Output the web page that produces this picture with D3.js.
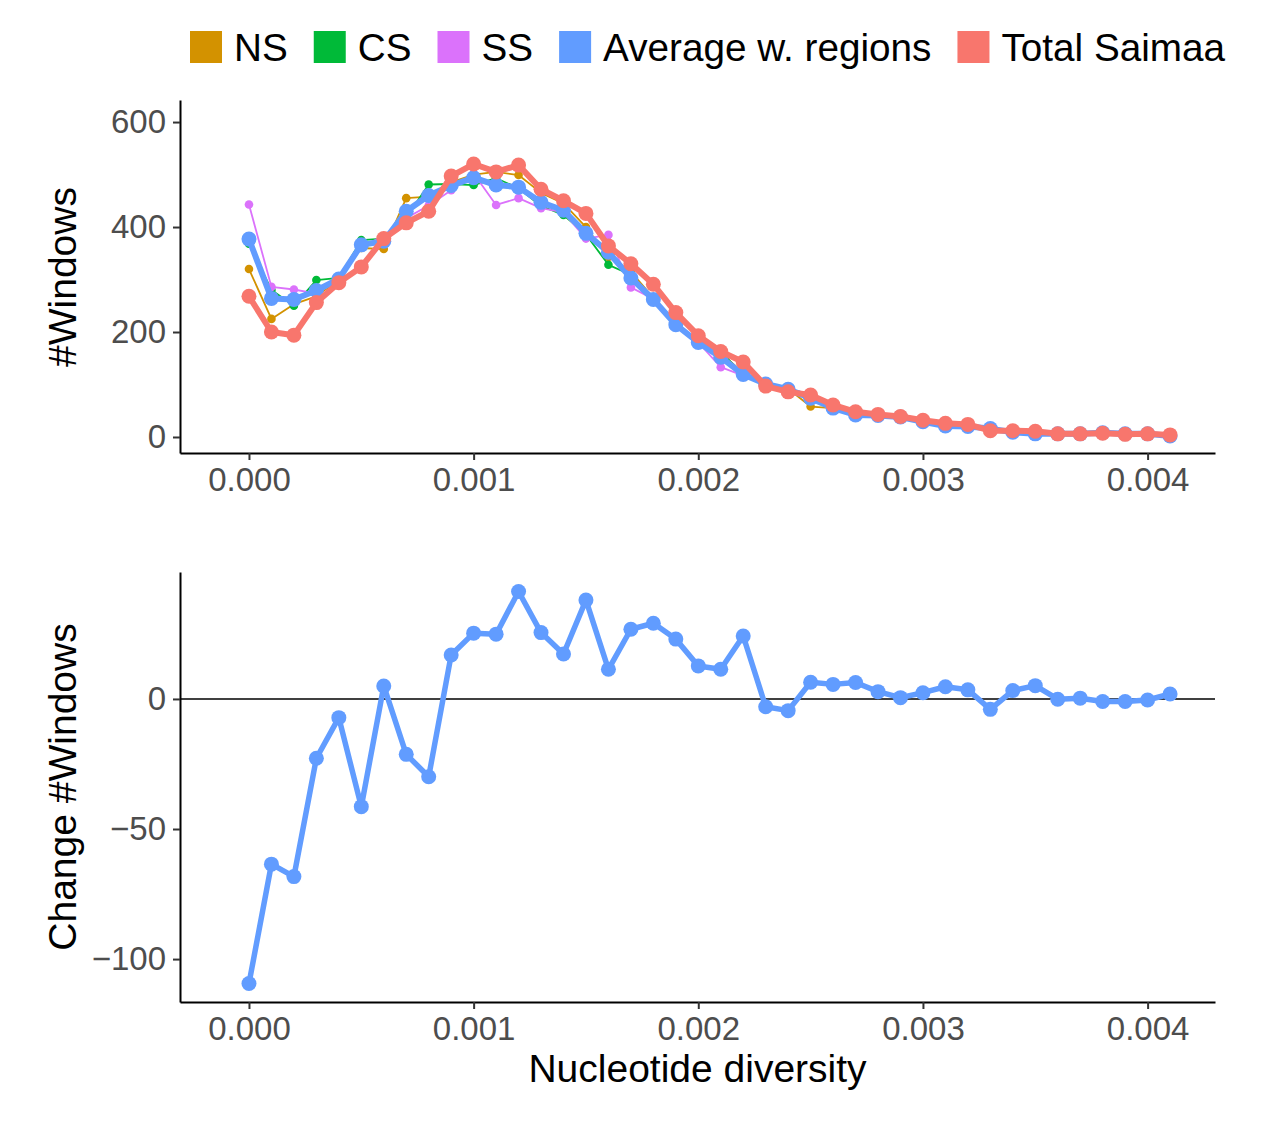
<!DOCTYPE html>
<html>
<head>
<meta charset="utf-8">
<script src="https://cdn.jsdelivr.net/npm/d3@7"></script>
<style>
  body { margin: 0; background: #fff; }
  svg { font-family: "Liberation Sans", Arial, sans-serif; }
</style>
</head>
<body>
<svg id="chart" width="1270" height="1143"></svg>
<script>
// nucleotide diversity bins
const diversity = [0, 0.0001, 0.0002, 0.0003, 0.0004, 0.0005, 0.0006, 0.0007, 0.0008, 0.0009,
  0.0010, 0.0011, 0.0012, 0.0013, 0.0014, 0.0015, 0.0016, 0.0017, 0.0018, 0.0019,
  0.0020, 0.0021, 0.0022, 0.0023, 0.0024, 0.0025, 0.0026, 0.0027, 0.0028, 0.0029,
  0.0030, 0.0031, 0.0032, 0.0033, 0.0034, 0.0035, 0.0036, 0.0037, 0.0038, 0.0039,
  0.0040, 0.0041];

const ns = [320, 225, 253, 268, 300, 360, 358, 455, 458, 485, 500, 505, 499, 465, 445, 400, 343, 315, 265, 215,
  182, 160, 122, 102, 92, 58, 55, 43, 40, 37, 30, 22, 20, 15, 9, 5, 6, 6, 8, 6, 6, 2];
const cs = [368, 280, 250, 299, 303, 375, 378, 418, 481, 482, 480, 493, 474, 440, 423, 386, 328, 309, 258, 212,
  178, 163, 118, 100, 90, 82, 56, 41, 42, 39, 28, 20, 21, 17, 10, 7, 6, 6, 8, 6, 6, 2];
const ss = [443, 286, 281, 273, 300, 363, 383, 417, 441, 470, 502, 442, 455, 436, 428, 378, 385, 285, 263, 215,
  180, 133, 117, 101, 91, 82, 54, 42, 41, 38, 29, 21, 19, 16, 8, 6, 6, 6, 8, 6, 6, 2];
const average = [377, 264, 262, 279, 301, 366, 373, 430, 460, 479, 494, 480, 476, 447, 432, 388, 352, 303, 262, 214,
  180, 152, 119, 101, 91, 74, 55, 42, 41, 38, 29, 21, 20, 16, 9, 6, 6, 6, 8, 6, 6, 2];
const total = [268, 200, 194, 256, 294, 324, 378, 408, 430, 497, 520, 505, 518, 472, 450, 426, 364, 330, 291, 237,
  193, 163, 143, 97, 86, 80, 61, 48, 43, 39, 32, 26, 24, 12, 12, 11, 6, 6, 7, 5, 6, 4];

// Total Saimaa minus average of regions
const change = [-109.4, -63.5, -68.3, -22.8, -7.2, -41.4, 5, -21.3, -29.9, 16.9, 25.3, 24.9, 41.3, 25.5, 17.3, 38, 11.4, 26.8, 29.1, 23,
  12.7, 11.4, 24.2, -3, -4.5, 6.4, 5.6, 6.3, 2.8, 0.5, 2.4, 4.7, 3.5, -4, 3.2, 5.1, -0.1, 0.3, -1, -1, -0.4, 1.9];

const seriesNames = ["NS", "CS", "SS", "Average w. regions", "Total Saimaa"];
const seriesColors = ["#D39200", "#00BA38", "#DB72FB", "#619CFF", "#F8766D"];
const xTicks = [0, 0.001, 0.002, 0.003, 0.004];
const topTicks = [0, 200, 400, 600];
const bottomTicks = [-100, -50, 0];

const svg = d3.select("#chart");
const left = 180, right = 1215;
const tickFont = 33, titleFont = 39, legendFont = 38.7;

const x = d3.scaleLinear().domain([-0.000307, 0.0043]).range([left, right]);

const yTop = d3.scaleLinear().domain([-30.5, 642]).range([453, 100]);
const yBot = d3.scaleLinear().domain([-116.5, 48.8]).range([1002, 572]);

function styleAxis(g) {
  g.select(".domain").attr("stroke", "#000").attr("stroke-width", 2);
  g.selectAll(".tick line").attr("stroke", "#333").attr("stroke-width", 2);
  g.selectAll(".tick text").attr("fill", "#4D4D4D").style("font-size", tickFont + "px")
    .attr("font-family", "Liberation Sans, Arial, sans-serif");
}

function drawAxes(y, ticks, fmt, bottomY) {
  svg.append("g")
    .attr("transform", `translate(0,${bottomY})`)
    .call(d3.axisBottom(x).tickValues(xTicks).tickFormat(d3.format(".3f")).tickSize(7).tickPadding(8).tickSizeOuter(0))
    .call(styleAxis);
  svg.append("g")
    .attr("transform", `translate(${left},0)`)
    .call(d3.axisLeft(y).tickValues(ticks).tickFormat(fmt).tickSize(7).tickPadding(7).tickSizeOuter(0))
    .call(styleAxis);
}

// ---- top panel ----
drawAxes(yTop, topTicks, d => d, 453);

const allSeries = [ns, cs, ss, average, total];
allSeries.forEach((vals, k) => {
  const thick = k >= 3;
  const line = d3.line().x((d, i) => x(diversity[i])).y(d => yTop(d));
  svg.append("path")
    .datum(vals)
    .attr("d", line)
    .attr("fill", "none")
    .attr("stroke", seriesColors[k])
    .attr("stroke-width", thick ? 6 : 1.8)
    .attr("stroke-linejoin", "round");
  svg.append("g").selectAll("circle")
    .data(vals)
    .enter().append("circle")
    .attr("cx", (d, i) => x(diversity[i]))
    .attr("cy", d => yTop(d))
    .attr("r", thick ? 7.5 : 4.3)
    .attr("fill", seriesColors[k]);
});

svg.append("text")
  .attr("transform", `translate(76,277) rotate(-90)`)
  .attr("text-anchor", "middle")
  .style("font-size", titleFont + "px")
  .text("#Windows");

// ---- bottom panel ----
drawAxes(yBot, bottomTicks, d => d < 0 ? "\u2212" + Math.abs(d) : d, 1002);

svg.append("line")
  .attr("x1", left).attr("x2", right)
  .attr("y1", yBot(0)).attr("y2", yBot(0))
  .attr("stroke", "#000").attr("stroke-width", 1.5);

svg.append("path")
  .datum(change)
  .attr("d", d3.line().x((d, i) => x(diversity[i])).y(d => yBot(d)))
  .attr("fill", "none")
  .attr("stroke", "#619CFF")
  .attr("stroke-width", 5.5)
  .attr("stroke-linejoin", "round");

svg.append("g").selectAll("circle")
  .data(change)
  .enter().append("circle")
  .attr("cx", (d, i) => x(diversity[i]))
  .attr("cy", d => yBot(d))
  .attr("r", 7.5)
  .attr("fill", "#619CFF");

svg.append("text")
  .attr("transform", `translate(76,787) rotate(-90)`)
  .attr("text-anchor", "middle")
  .style("font-size", titleFont + "px")
  .text("Change #Windows");

svg.append("text")
  .attr("x", (left + right) / 2)
  .attr("y", 1082)
  .attr("text-anchor", "middle")
  .style("font-size", titleFont + "px")
  .text("Nucleotide diversity");

// ---- legend ----
const legend = svg.append("g");
let lx = 190;
seriesNames.forEach((name, k) => {
  legend.append("rect")
    .attr("x", lx).attr("y", 31)
    .attr("width", 32).attr("height", 32)
    .attr("fill", seriesColors[k]);
  const t = legend.append("text")
    .attr("x", lx + 44).attr("y", 60.5)
    .style("font-size", legendFont + "px")
    .text(name);
  lx += 44 + t.node().getComputedTextLength() + 26;
});
</script>
</body>
</html>
